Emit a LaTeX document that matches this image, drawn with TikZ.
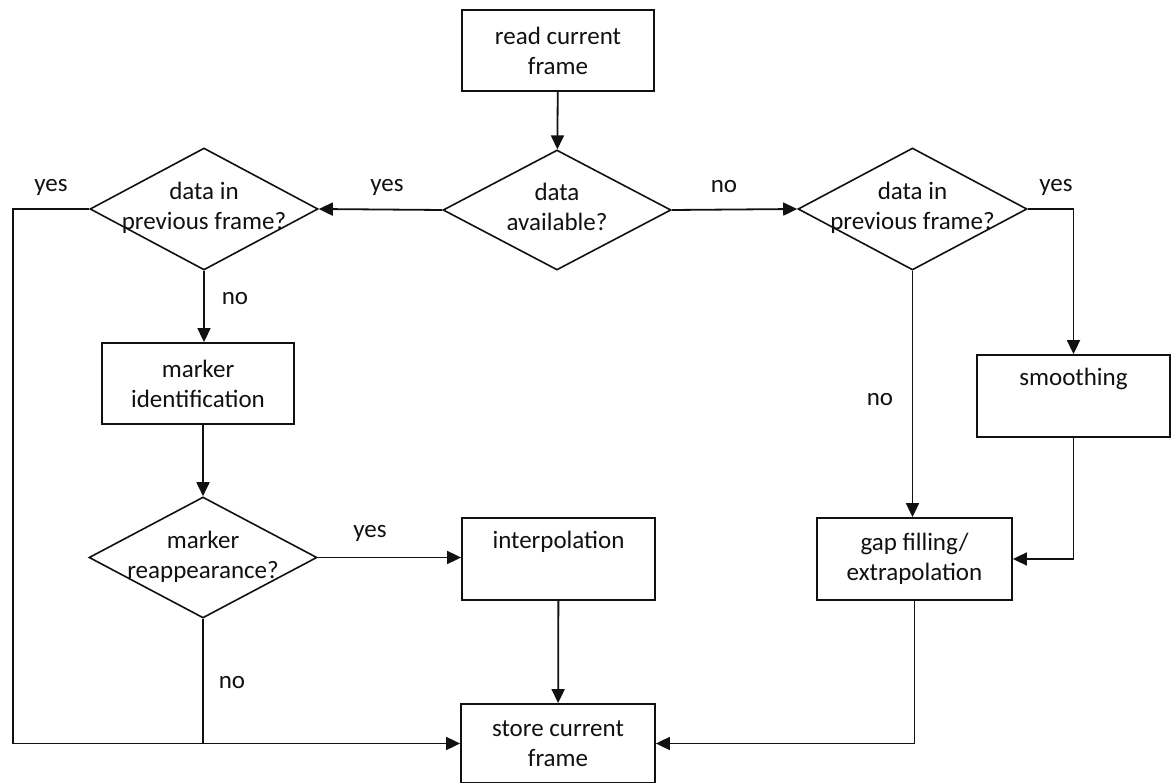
\documentclass[tikz,border=0pt]{standalone}
\usepackage{fontspec}
\setmainfont{Carlito}
\usetikzlibrary{shapes.geometric,arrows.meta}
\definecolor{ink}{HTML}{111111}
\newcommand{\dtxt}[1]{\makebox[0pt]{\begin{tabular}{@{}c@{}}#1\end{tabular}}}
\begin{document}
\begin{tikzpicture}[x=1pt,y=-1pt,
  every node/.style={font=\fontsize{25}{30}\selectfont, text=ink},
  procbox/.style={draw=ink, line width=1.8pt, rectangle, align=center, inner sep=0pt},
  decbox/.style={draw=ink, line width=1.6pt, diamond, inner sep=0pt},
  lbl/.style={inner sep=0pt},
  conn/.style={draw=ink, line width=1.8pt},
  arr/.style={conn, -{Triangle[length=14pt,width=13pt]}}]
\useasboundingbox (0,0) rectangle (1171,783);
\fill[white] (0,0) rectangle (1171,783);
% process boxes
\node[procbox, minimum width=192pt, minimum height=81pt] (read) at (558,50.5) {read current\\frame};
\node[procbox, minimum width=192pt, minimum height=81pt] (mid) at (198,383.5) {marker\\identification};
\node[procbox, minimum width=193pt, minimum height=82pt] (interp) at (558.5,559) {interpolation\\\strut};
\node[procbox, minimum width=193pt, minimum height=82pt] (smooth) at (1073.5,396) {smoothing\\\strut};
\node[procbox, minimum width=195pt, minimum height=82pt] (gap) at (914.5,559) {gap filling/\\extrapolation};
\node[procbox, minimum width=194pt, minimum height=79pt] (store) at (558,743.5) {store current\\frame};
% decisions
\node[decbox, minimum width=228pt, minimum height=120pt] (avail) at (557,210) {\dtxt{data\\available?}};
\node[decbox, minimum width=228pt, minimum height=122pt] (dl) at (204,209) {\dtxt{data in\\previous frame?}};
\node[decbox, minimum width=229pt, minimum height=122pt] (dr) at (912.5,209) {\dtxt{data in\\previous frame?}};
\node[decbox, minimum width=228pt, minimum height=121pt] (mr) at (203,557.5) {\dtxt{marker\\reappearance?}};
% branch labels
\node[lbl] (yes1) at (51,187) {yes};
\node[lbl] (yes2) at (387,187) {yes};
\node[lbl] (no1) at (724,187) {no};
\node[lbl] (yes3) at (1056,187) {yes};
\node[lbl] (no2) at (235,299) {no};
\node[lbl] (no3) at (880,400) {no};
\node[lbl] (yes4) at (370,533) {yes};
\node[lbl] (no4) at (232,683) {no};
% helper coordinates
\coordinate (lx) at (13,209);
% connectors
\draw[arr] (read) -- (avail);
\draw[arr] (avail.west) -- (dl.east);
\draw[arr] (avail.east) -- (dr.west);
\draw[arr] (dl.south) -- (dl.south |- mid.north);
\draw[arr] (mr.north |- mid.south) -- (mr.north);
\draw[arr] (mr.east) -- (mr.east -| interp.west);
\draw[arr] (interp) -- (store);
\draw[arr] (dl.west) -- (lx) |- (store.west);
\draw[conn] (mr.south) -- (mr.south |- store.west);
\draw[arr] (dr.south) -- (dr.south |- gap.north);
\draw[arr] (dr.east) -| (smooth.north);
\draw[arr] (smooth.south) |- (gap.east);
\draw[arr] (gap.south) |- (store.east);
\end{tikzpicture}
\end{document}
